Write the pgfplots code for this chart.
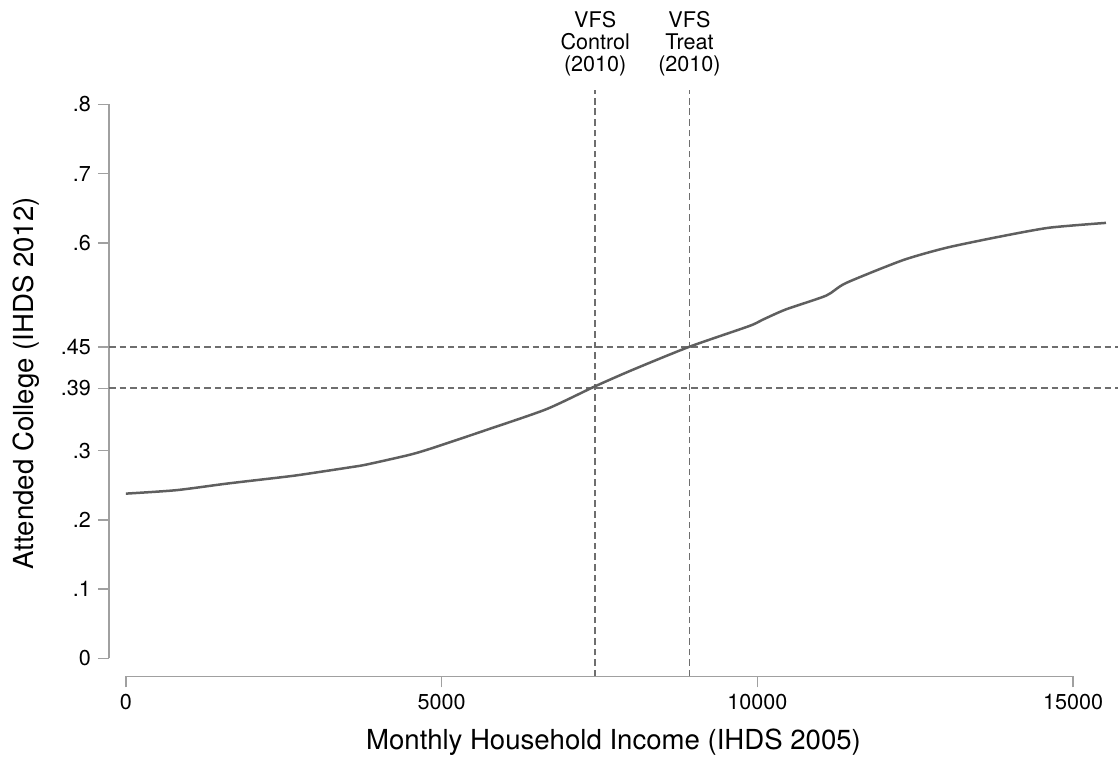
\documentclass[border=0pt]{standalone}
\usepackage{fontspec}
\setmainfont{TeX Gyre Heros}
\usepackage{pgfplots}
\pgfplotsset{compat=1.18}

\definecolor{curvecol}{HTML}{5F5F5F}
\definecolor{refcol}{HTML}{6E6E6E}
\definecolor{axcol}{HTML}{A0A0A0}

\pgfplotstableread{
x y
0 0.238
800 0.243
1600 0.2525
2400 0.261
2750 0.265
3550 0.276
3810 0.280
4490 0.294
4860 0.304
5710 0.330
6660 0.360
7430 0.393
8030 0.417
8920 0.450
9870 0.480
10080 0.489
10450 0.504
11090 0.524
11400 0.542
12300 0.575
12990 0.593
13830 0.609
14620 0.622
15520 0.629
}\curvedata

\begin{document}
\begin{tikzpicture}
\begin{axis}[
  name=ax,
  scale only axis,
  width=505pt, height=293.5pt,
  xmin=-269, xmax=15712,
  ymin=-0.026, ymax=0.821,
  axis lines=left,
  axis line style={draw=none},
  clip=false,
  tick align=outside,
  major tick length=5.5pt,
  tick style={color=axcol, line width=0.75pt},
  scaled x ticks=false,
  xtick={0,5000,10000,15000},
  xticklabels={0,5000,10000,15000},
  ytick={0,0.1,0.2,0.3,0.39,0.45,0.6,0.7,0.8},
  yticklabels={0,.1,.2,.3,.39,.45,.6,.7,.8},
  minor tick num=0,
  ticklabel style={font=\fontsize{10.8}{13}\selectfont, text=black},
  /pgf/number format/assume math mode=true,
  xlabel={Monthly Household Income (IHDS 2005)},
  ylabel={Attended College (IHDS 2012)},
  every axis x label/.style={at={(axis description cs:0.5,0)}, anchor=base, yshift=-36.4pt,
    inner sep=0pt, font=\fontsize{13.8}{16}\selectfont},
  every axis y label/.style={at={(axis description cs:0,0.5)}, xshift=-41.3pt, anchor=center, rotate=90,
    inner sep=0pt, font=\fontsize{13.8}{16}\selectfont},
]
% axis lines spanning the tick range only
\draw[axcol, line width=0.75pt] (axis cs:-269,0) -- (axis cs:-269,0.8);
\draw[axcol, line width=0.75pt] (axis cs:0,-0.026) -- (axis cs:15000,-0.026);

% reference lines
\addplot[refcol, line width=0.9pt, dash pattern=on 3.3pt off 2pt] coordinates {(-269,0.45) (15712,0.45)};
\addplot[refcol, line width=0.9pt, dash pattern=on 3.3pt off 2pt] coordinates {(-269,0.39) (15712,0.39)};
\addplot[refcol, line width=0.9pt, dash pattern=on 3.3pt off 2pt] coordinates {(7432,-0.026) (7432,0.821)};
\addplot[refcol, line width=0.9pt, dash pattern=on 3.3pt off 2pt] coordinates {(8924,-0.026) (8924,0.821)};

\addplot[curvecol, line width=1.25pt, smooth, tension=0.4] table {\curvedata};

\node[anchor=south, inner sep=0pt, yshift=6.5pt, align=center, font=\fontsize{10.8}{11.2}\selectfont] at (axis cs:7432,0.821) {VFS\\Control\\(2010)};
\node[anchor=south, inner sep=0pt, yshift=6.5pt, align=center, font=\fontsize{10.8}{11.2}\selectfont] at (axis cs:8924,0.821) {VFS\\Treat\\(2010)};
\end{axis}
% page frame matching the reference margins
\path (ax.south west) ++(-54.5pt,-40pt) coordinate (bbsw);
\path (ax.north east) ++(0pt,45pt) coordinate (bbne);
\path (bbsw) rectangle (bbne);
\end{tikzpicture}
\end{document}
